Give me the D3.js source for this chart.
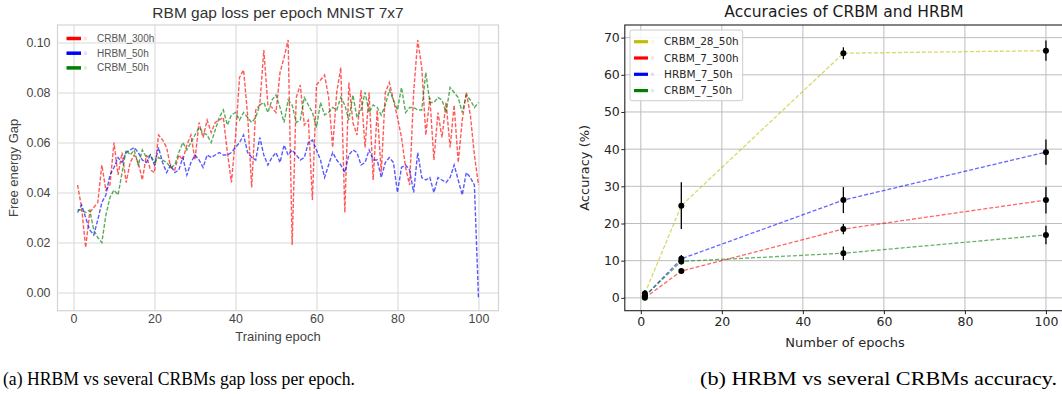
<!DOCTYPE html>
<html>
<head>
<meta charset="utf-8">
<script src="https://cdn.jsdelivr.net/npm/d3@7"></script>
<style>
  body { margin: 0; background: #fff; }
  svg { display: block; }
</style>
</head>
<body>
<svg id="fig" width="1062" height="394"></svg>
<script>
// ---- data: (a) gap loss per epoch ----
const epochs = d3.range(1, 101);
const crbm300 = [
  0.043, 0.034, 0.018, 0.032, 0.034, 0.036, 0.051, 0.041, 0.043, 0.060,
  0.047, 0.056, 0.044, 0.052, 0.055, 0.052, 0.045, 0.055, 0.049, 0.048,
  0.063, 0.061, 0.058, 0.050, 0.049, 0.055, 0.053, 0.059, 0.063, 0.053,
  0.068, 0.062, 0.069, 0.064, 0.068, 0.069, 0.070, 0.056, 0.044, 0.062,
  0.086, 0.089, 0.071, 0.042, 0.073, 0.075, 0.097, 0.075, 0.074, 0.072,
  0.088, 0.094, 0.101, 0.019, 0.078, 0.083, 0.067, 0.069, 0.037, 0.083,
  0.085, 0.087, 0.078, 0.058, 0.080, 0.090, 0.032, 0.084, 0.068, 0.063,
  0.081, 0.058, 0.080, 0.045, 0.073, 0.048, 0.080, 0.084, 0.077, 0.070,
  0.062, 0.050, 0.043, 0.080, 0.101, 0.090, 0.063, 0.078, 0.053, 0.072,
  0.062, 0.076, 0.058, 0.075, 0.052, 0.069, 0.080, 0.071, 0.055, 0.043
];
const hrbm50 = [
  0.032, 0.035, 0.030, 0.025, 0.023, 0.029, 0.036, 0.039, 0.047, 0.050,
  0.054, 0.052, 0.056, 0.057, 0.058, 0.056, 0.053, 0.052, 0.055, 0.051,
  0.058, 0.052, 0.048, 0.051, 0.048, 0.049, 0.054, 0.047, 0.052, 0.055,
  0.053, 0.050, 0.055, 0.054, 0.055, 0.056, 0.055, 0.055, 0.056, 0.058,
  0.060, 0.063, 0.056, 0.054, 0.053, 0.062, 0.055, 0.051, 0.054, 0.056,
  0.052, 0.059, 0.055, 0.057, 0.055, 0.053, 0.054, 0.060, 0.061, 0.057,
  0.053, 0.046, 0.051, 0.056, 0.053, 0.051, 0.048, 0.055, 0.057, 0.056,
  0.051, 0.052, 0.057, 0.053, 0.053, 0.046, 0.052, 0.054, 0.052, 0.040,
  0.050, 0.051, 0.049, 0.040, 0.056, 0.046, 0.045, 0.046, 0.040, 0.046,
  0.045, 0.044, 0.046, 0.051, 0.045, 0.039, 0.048, 0.046, 0.043, -0.002
];
const crbm50 = [
  0.033, 0.033, 0.032, 0.033, 0.025, 0.022, 0.020, 0.031, 0.038, 0.041,
  0.039, 0.048, 0.057, 0.055, 0.057, 0.051, 0.057, 0.054, 0.055, 0.052,
  0.054, 0.053, 0.052, 0.050, 0.051, 0.056, 0.060, 0.057, 0.060, 0.063,
  0.066, 0.064, 0.063, 0.060, 0.065, 0.070, 0.073, 0.067, 0.071, 0.072,
  0.069, 0.072, 0.070, 0.068, 0.070, 0.075, 0.076, 0.072, 0.077, 0.079,
  0.074, 0.068, 0.077, 0.075, 0.068, 0.069, 0.078, 0.075, 0.072, 0.066,
  0.076, 0.071, 0.072, 0.074, 0.073, 0.078, 0.075, 0.069, 0.079, 0.070,
  0.073, 0.080, 0.072, 0.075, 0.074, 0.071, 0.075, 0.081, 0.077, 0.073,
  0.082, 0.072, 0.074, 0.074, 0.073, 0.073, 0.088, 0.076, 0.076, 0.078,
  0.077, 0.072, 0.082, 0.080, 0.078, 0.072, 0.079, 0.077, 0.074, 0.076
];
const gapNames = ["CRBM_300h", "HRBM_50h", "CRBM_50h"];
const gapColors = ["#ff0000", "#0000ff", "#008000"];
const gapTicksX = [0, 20, 40, 60, 80, 100];
const gapTicksY = [0, 0.02, 0.04, 0.06, 0.08, 0.10];

// ---- data: (b) accuracies ----
const accEpochs = [1, 10, 50, 100];
const crbm28_50Acc = [1.2, 24.8, 65.8, 66.5];
const crbm28_50Err = [0.9, 6.3, 1.6, 2.7];
const crbm7_300Acc = [0.0, 7.2, 18.5, 26.3];
const crbm7_300Err = [0.4, 0.7, 1.4, 3.6];
const hrbm7_50Acc = [0.4, 10.5, 26.3, 39.2];
const hrbm7_50Err = [0.5, 1.0, 3.5, 3.4];
const crbm7_50Acc = [0.5, 9.8, 12.0, 16.9];
const crbm7_50Err = [0.5, 0.8, 1.8, 2.5];
const accNames = ["CRBM_28_50h", "CRBM_7_300h", "HRBM_7_50h", "CRBM_7_50h"];
const accColors = ["#bfbf00", "#ff0000", "#0000ff", "#008000"];
const accTicksX = [0, 20, 40, 60, 80, 100];
const accTicksY = [0, 10, 20, 30, 40, 50, 60, 70];

const svg = d3.select("#fig");

// ================= (a) =================
(function drawGap() {
  const font = "'Liberation Sans', Arial, sans-serif";
  const L = 57.5, R = 498.5, T = 25, B = 310.7;
  const x = d3.scaleLinear().domain([-3.95, 104.95]).range([L, R]);
  const y = d3.scaleLinear().domain([-0.00728, 0.107]).range([B, T]);
  const g = svg.append("g");

  const xa = g.append("g").attr("transform", `translate(0,${B})`)
    .call(d3.axisBottom(x).tickValues(gapTicksX).tickSize(-(B - T)).tickPadding(4).tickFormat(d3.format("d")));
  const ya = g.append("g").attr("transform", `translate(${L},0)`)
    .call(d3.axisLeft(y).tickValues(gapTicksY).tickSize(-(R - L)).tickPadding(7).tickFormat(d3.format(".2f")));
  [xa, ya].forEach(a => {
    a.select(".domain").remove();
    a.selectAll("line").attr("stroke", "#dadada").attr("stroke-width", 1.1);
    a.selectAll("text").attr("fill", "#444").style("font-family", font).style("font-size", "12.4px");
  });
  g.append("rect").attr("x", L).attr("y", T).attr("width", R - L).attr("height", B - T)
    .attr("fill", "none").attr("stroke", "#d4d4d4").attr("stroke-width", 1.2);

  const series = [crbm300, hrbm50, crbm50];
  const line = d3.line().x((d, i) => x(epochs[i])).y(d => y(d));
  series.forEach((s, k) => {
    g.append("path").datum(s).attr("d", line)
      .attr("fill", "none").attr("stroke", gapColors[k]).attr("stroke-opacity", 0.65)
      .attr("stroke-width", 1.4).attr("stroke-dasharray", "4,1.8");
  });

  // legend
  gapNames.forEach((n, k) => {
    const yy = 38.5 + k * 14.7;
    g.append("line").attr("x1", 66.5).attr("x2", 81).attr("y1", yy).attr("y2", yy)
      .attr("stroke", gapColors[k]).attr("stroke-width", 3.5);
    g.append("line").attr("x1", 84).attr("x2", 87).attr("y1", yy).attr("y2", yy)
      .attr("stroke", gapColors[k]).attr("stroke-opacity", 0.12).attr("stroke-width", 3.5);
    g.append("text").attr("x", 97).attr("y", yy).attr("dy", "0.35em").text(n)
      .attr("fill", "#555").style("font-family", font).style("font-size", "10px");
  });

  g.append("text").attr("x", (L + R) / 2).attr("y", 18).attr("text-anchor", "middle")
    .text("RBM gap loss per epoch MNIST 7x7").attr("fill", "#333")
    .style("font-family", font).style("font-size", "15.5px");
  g.append("text").attr("x", (L + R) / 2).attr("y", 340.5).attr("text-anchor", "middle")
    .text("Training epoch").attr("fill", "#444")
    .style("font-family", font).style("font-size", "13px");
  g.append("text").attr("transform", `translate(18,${(T + B) / 2}) rotate(-90)`).attr("text-anchor", "middle")
    .text("Free energy Gap").attr("fill", "#444")
    .style("font-family", font).style("font-size", "13px");
})();

// ================= (b) =================
(function drawAcc() {
  const font = "'DejaVu Sans', sans-serif";
  const L = 624.8, R = 1066, T = 25, B = 310.7;
  const x = d3.scaleLinear().domain([-3.95, 104.95]).range([L, R]);
  const y = d3.scaleLinear().domain([-3.46, 73.4]).range([B, T]);
  const g = svg.append("g");

  // grid
  g.append("g").selectAll("line").data(accTicksX).join("line")
    .attr("x1", d => x(d)).attr("x2", d => x(d)).attr("y1", T).attr("y2", B)
    .attr("stroke", "#bdbdbd").attr("stroke-width", 1);
  g.append("g").selectAll("line").data(accTicksY).join("line")
    .attr("x1", L).attr("x2", R).attr("y1", d => y(d)).attr("y2", d => y(d))
    .attr("stroke", "#bdbdbd").attr("stroke-width", 1);

  const xa = g.append("g").attr("transform", `translate(0,${B})`)
    .call(d3.axisBottom(x).tickValues(accTicksX).tickSizeInner(3.5).tickSizeOuter(0).tickPadding(3).tickFormat(d3.format("d")));
  const ya = g.append("g").attr("transform", `translate(${L},0)`)
    .call(d3.axisLeft(y).tickValues(accTicksY).tickSizeInner(3.5).tickSizeOuter(0).tickPadding(1.5).tickFormat(d3.format("d")));
  [xa, ya].forEach(a => {
    a.select(".domain").remove();
    a.selectAll("line").attr("stroke", "#222").attr("stroke-width", 1);
    a.selectAll("text").attr("fill", "#262626").style("font-family", font).style("font-size", "12.5px");
  });
  // spines (right spine falls outside the picture)
  g.append("rect").attr("x", L).attr("y", T).attr("width", R - L).attr("height", B - T)
    .attr("fill", "none").attr("stroke", "#222").attr("stroke-width", 1.1);

  const vals = [crbm28_50Acc, crbm7_300Acc, hrbm7_50Acc, crbm7_50Acc];
  const errs = [crbm28_50Err, crbm7_300Err, hrbm7_50Err, crbm7_50Err];
  const line = d3.line().x((d, i) => x(accEpochs[i])).y(d => y(d));
  vals.forEach((s, k) => {
    g.append("path").datum(s).attr("d", line)
      .attr("fill", "none").attr("stroke", accColors[k]).attr("stroke-opacity", 0.6)
      .attr("stroke-width", 1.3).attr("stroke-dasharray", "4,2");
  });
  vals.forEach((s, k) => {
    s.forEach((v, i) => {
      g.append("line").attr("x1", x(accEpochs[i])).attr("x2", x(accEpochs[i]))
        .attr("y1", y(v - errs[k][i])).attr("y2", y(v + errs[k][i]))
        .attr("stroke", "#000").attr("stroke-width", 1.3);
      g.append("circle").attr("cx", x(accEpochs[i])).attr("cy", y(v)).attr("r", 3).attr("fill", "#000");
    });
  });

  // legend
  g.append("rect").attr("x", 630).attr("y", 30).attr("width", 112.7).attr("height", 70.7).attr("rx", 2)
    .attr("fill", "#fff").attr("fill-opacity", 0.85).attr("stroke", "#cccccc");
  accNames.forEach((n, k) => {
    const yy = 41.7 + k * 16.3;
    g.append("line").attr("x1", 634).attr("x2", 648).attr("y1", yy).attr("y2", yy)
      .attr("stroke", accColors[k]).attr("stroke-width", 3.2);
    g.append("line").attr("x1", 651).attr("x2", 654).attr("y1", yy).attr("y2", yy)
      .attr("stroke", accColors[k]).attr("stroke-opacity", 0.12).attr("stroke-width", 3.2);
    g.append("text").attr("x", 664).attr("y", yy).attr("dy", "0.35em").text(n)
      .attr("fill", "#262626").style("font-family", font).style("font-size", "10.5px");
  });

  g.append("text").attr("x", 844).attr("y", 17).attr("text-anchor", "middle")
    .text("Accuracies of CRBM and HRBM").attr("fill", "#1a1a1a")
    .style("font-family", font).style("font-size", "15.5px");
  g.append("text").attr("x", 845).attr("y", 347).attr("text-anchor", "middle")
    .text("Number of epochs").attr("fill", "#262626")
    .style("font-family", font).style("font-size", "13px");
  g.append("text").attr("transform", `translate(589,${(T + B) / 2}) rotate(-90)`).attr("text-anchor", "middle")
    .text("Accuracy (%)").attr("fill", "#262626")
    .style("font-family", font).style("font-size", "13px");
})();

// ---- captions ----
const capFont = "'Liberation Serif', 'Times New Roman', serif";
svg.append("text").attr("x", 3).attr("y", 385).attr("textLength", 352).attr("lengthAdjust", "spacingAndGlyphs")
  .text("(a) HRBM vs several CRBMs gap loss per epoch.").attr("fill", "#000")
  .style("font-family", capFont).style("font-size", "19px");
svg.append("text").attr("x", 700).attr("y", 385).attr("textLength", 357).attr("lengthAdjust", "spacingAndGlyphs")
  .text("(b) HRBM vs several CRBMs accuracy.").attr("fill", "#000")
  .style("font-family", capFont).style("font-size", "19px");
</script>
</body>
</html>
